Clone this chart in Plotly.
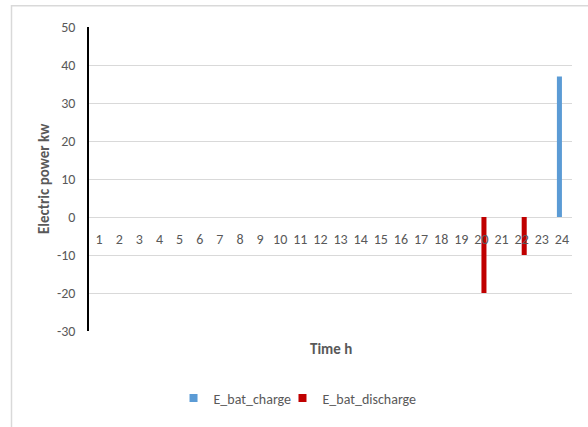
import plotly.graph_objects as go

hours = [str(h) for h in range(1, 25)]
e_bat_charge = [0] * 23 + [37]
e_bat_discharge = [0] * 19 + [-20, 0, -10, 0, 0]
y_ticks = [50, 40, 30, 20, 10, 0, -10, -20, -30]
y_tick_text = [str(v) for v in y_ticks]

FONT = "Carlito, Lato, sans-serif"
GRAY = "#595959"
BLUE = "#5B9BD5"
RED = "#C00000"

fig = go.Figure()
fig.add_trace(go.Bar(x=hours, y=e_bat_charge, name="E_bat_charge",
                     marker=dict(color=BLUE, line=dict(width=0)), showlegend=False))
fig.add_trace(go.Bar(x=hours, y=e_bat_discharge, name="E_bat_discharge",
                     marker=dict(color=RED, line=dict(width=0)), showlegend=False))
# legend entries with small square swatches, one per legend box
for name, col, lg in [("E_bat_charge", BLUE, "legend"), ("E_bat_discharge", RED, "legend2")]:
    fig.add_trace(go.Scatter(x=[None], y=[None], mode="markers", name=name, legend=lg,
                             marker=dict(symbol="square", size=8, color=col)))

ymin, ymax = -30, 50
legend_style = dict(orientation="h", xanchor="left", y=-0.222, yanchor="middle",
                    font=dict(size=14, color=GRAY), itemwidth=30,
                    bgcolor="rgba(0,0,0,0)")
fig.update_layout(
    width=588, height=427,
    margin=dict(l=89, r=16, t=27, b=94),
    paper_bgcolor="white", plot_bgcolor="white",
    barmode="group", bargap=0.5, bargroupgap=0,
    font=dict(family=FONT, color=GRAY, size=14),
    xaxis=dict(type="category", categoryorder="array", categoryarray=hours,
               anchor="free", position=(0 - ymin) / (ymax - ymin),
               showgrid=False, showline=False, zeroline=False, ticks="",
               ticklabelstandoff=12, tickfont=dict(size=14, color=GRAY)),
    yaxis=dict(range=[ymin, ymax], tickvals=y_ticks, ticktext=y_tick_text, showgrid=True,
               gridcolor="#D9D9D9", gridwidth=1, zeroline=False,
               showline=True, linecolor="#000000", linewidth=1.5,
               ticks="", ticklabelstandoff=9, tickfont=dict(size=14, color=GRAY)),
    legend=dict(x=0.175, **legend_style),
    legend2=dict(x=0.4006, **legend_style),
    annotations=[
        dict(text="<b>Time h</b>", x=0.5, y=-0.06, xref="paper", yref="paper",
             xanchor="center", yanchor="middle", showarrow=False,
             font=dict(size=15, color=GRAY)),
        dict(text="<b>Electric power kw</b>", x=-0.093, y=0.5, xref="paper", yref="paper",
             xanchor="center", yanchor="middle", textangle=-90, showarrow=False,
             font=dict(size=15, color=GRAY)),
    ],
    shapes=[
        dict(type="rect", xref="paper", yref="paper",
             x0=(11.5 - 89) / 483, x1=1.2, y0=-0.6, y1=1 + (27 - 5.5) / 306,
             line=dict(color="#D9D9D9", width=1.5), fillcolor="rgba(0,0,0,0)", layer="below"),
    ],
)

fig.write_html("out.html")
